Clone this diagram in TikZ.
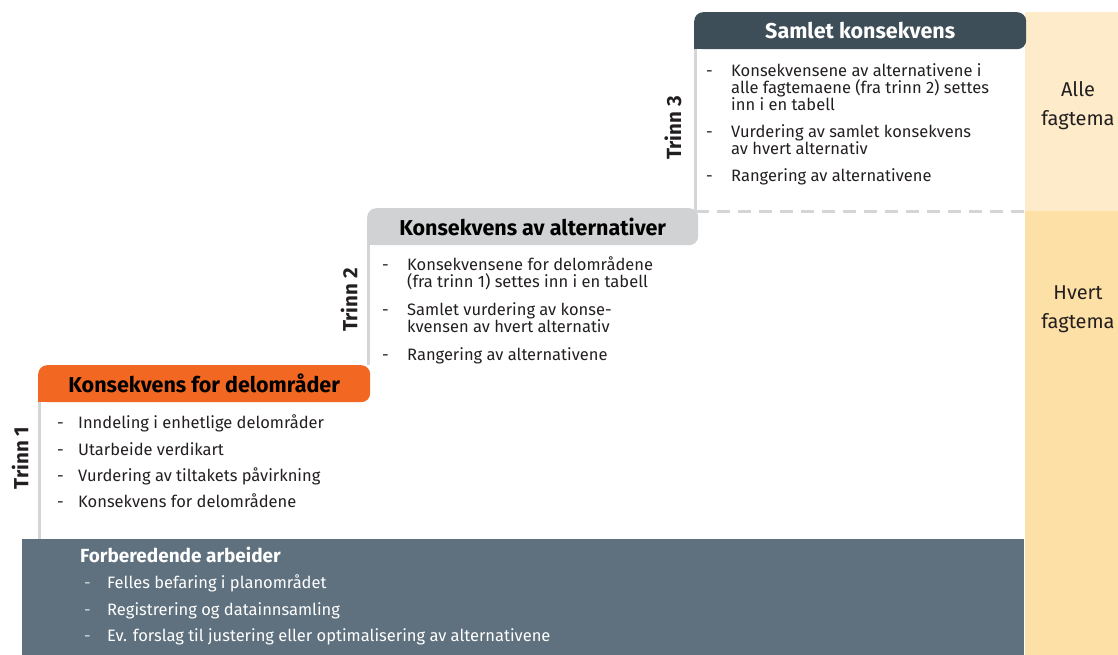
\documentclass[tikz,border=0pt]{standalone}
\usepackage{fontspec}
\setmainfont{Fira Sans}
\definecolor{orng}{HTML}{F26722}
\definecolor{lgray}{HTML}{D1D2D4}
\definecolor{dslate}{HTML}{3E4E58}
\definecolor{slate}{HTML}{5F717E}
\definecolor{ylight}{HTML}{FDEBC9}
\definecolor{ydark}{HTML}{FDE0A5}
\definecolor{vline}{HTML}{D4D5D7}
\definecolor{txt}{HTML}{231F20}
\begin{document}
\begin{tikzpicture}[x=1pt,y=-1pt,
  bul/.style={anchor=base west, inner sep=0pt, font=\fontsize{16.5}{17}\selectfont, text=txt},
  wbul/.style={bul, text=white},
  wdsh/.style={bul, text=white!75!slate},
  ttl/.style={rounded corners=9pt, minimum height=37pt, inner sep=0pt, anchor=north west, font=\bfseries\fontsize{21.5}{23}\selectfont},
  trinnlbl/.style={rotate=90, inner sep=0pt, font=\bfseries\fontsize{20.5}{22}\selectfont, text=txt},
  side/.style={inner sep=0pt, font=\fontsize{20}{22}\selectfont, text=txt, align=center},
  stem/.style={draw=vline, line width=3pt},
]
\useasboundingbox (0,0) rectangle (1118,655);
% right column
\fill[ylight] (1025,12) rectangle (1118,211);
\fill[ydark] (1025,211) rectangle (1118,655);
\node[side] (alle) at (1078,106) {Alle\\[7pt]fagtema};
\node[side] (hvert) at (1078,309) {Hvert\\[7pt]fagtema};
% bottom box
\node[fill=slate, minimum width=1002pt, minimum height=117pt, anchor=north west, inner sep=0pt] (prep) at (22,539) {};
\node[bul, text=white, font=\bfseries\fontsize{19}{20}\selectfont] (prept) at (80,562) {Forberedende arbeider};
\node[wdsh] (pd1) at (84,588) {-};
\node[wbul] (p1) at (107,588) {Felles befaring i planområdet};
\node[wdsh] (pd2) at (84,615) {-};
\node[wbul] (p2) at (107,615) {Registrering og datainnsamling};
\node[wdsh] (pd3) at (84,641) {-};
\node[wbul] (p3) at (107,641) {Ev. forslag til justering eller optimalisering av alternativene};
% title boxes
\node[ttl, fill=orng, minimum width=332pt, text=black] (b1) at (38,365) {Konsekvens for delområder};
\node[ttl, fill=lgray, minimum width=331pt, text=black] (b2) at (367,208) {Konsekvens av alternativer};
\node[ttl, fill=dslate, minimum width=332pt, text=white] (b3) at (694,12) {Samlet konsekvens};
% stems
\coordinate (s1top) at ([xshift=1.5pt]b1.south west);
\coordinate (s1bot) at (s1top |- prep.north);
\draw[stem] (s1top) -- (s1bot);
\coordinate (s2top) at ([xshift=1.5pt]b2.south west);
\coordinate (s2bot) at (s2top |- b1.north);
\draw[stem] (s2top) -- (s2bot);
\coordinate (s3top) at ([xshift=1.5pt]b3.south west);
\coordinate (s3bot) at (695.5,211);
\coordinate (dashend) at (1025,211);
\draw[stem] (s3top) -- (s3bot);
\draw[draw=vline, line width=3pt, dash pattern=on 13pt off 8pt] (s3bot) -- (dashend);
% square bottom-left corners
\fill[orng] (b1.south west) rectangle ++(12,-12);
\fill[lgray] (b2.south west) rectangle ++(12,-12);
\fill[dslate] (b3.south west) rectangle ++(12,-12);
% trinn labels
\node[trinnlbl] (t1) at (20,458) {Trinn 1};
\node[trinnlbl] (t2) at (349,300) {Trinn 2};
\node[trinnlbl] (t3) at (673,128) {Trinn 3};
% trinn 1 items
\node[bul] (d11) at (57,428) {-};
\node[bul] (i11) at (78,428) {Inndeling i enhetlige delområder};
\node[bul] (d12) at (57,455) {-};
\node[bul] (i12) at (78,455) {Utarbeide verdikart};
\node[bul] (d13) at (57,481) {-};
\node[bul] (i13) at (78,481) {Vurdering av tiltakets påvirkning};
\node[bul] (d14) at (57,507) {-};
\node[bul] (i14) at (78,507) {Konsekvens for delområdene};
% trinn 2 items
\node[bul] (d21) at (382,270) {-};
\node[bul] (i21a) at (407,270) {Konsekvensene for delområdene};
\node[bul] (i21b) at (407,287) {(fra trinn 1) settes inn i en tabell};
\node[bul] (d22) at (382,315) {-};
\node[bul] (i22a) at (407,315) {Samlet vurdering av konse-};
\node[bul] (i22b) at (407,332) {kvensen av hvert alternativ};
\node[bul] (d23) at (382,360) {-};
\node[bul] (i23) at (407,360) {Rangering av alternativene};
% trinn 3 items
\node[bul] (d31) at (706,77) {-};
\node[bul] (i31a) at (731,77) {Konsekvensene av alternativene i};
\node[bul] (i31b) at (731,94) {alle fagtemaene (fra trinn 2) settes};
\node[bul] (i31c) at (731,111) {inn i en tabell};
\node[bul] (d32) at (706,138) {-};
\node[bul] (i32a) at (731,138) {Vurdering av samlet konsekvens};
\node[bul] (i32b) at (731,155) {av hvert alternativ};
\node[bul] (d33) at (706,182) {-};
\node[bul] (i33) at (731,182) {Rangering av alternativene};
\end{tikzpicture}
\end{document}
